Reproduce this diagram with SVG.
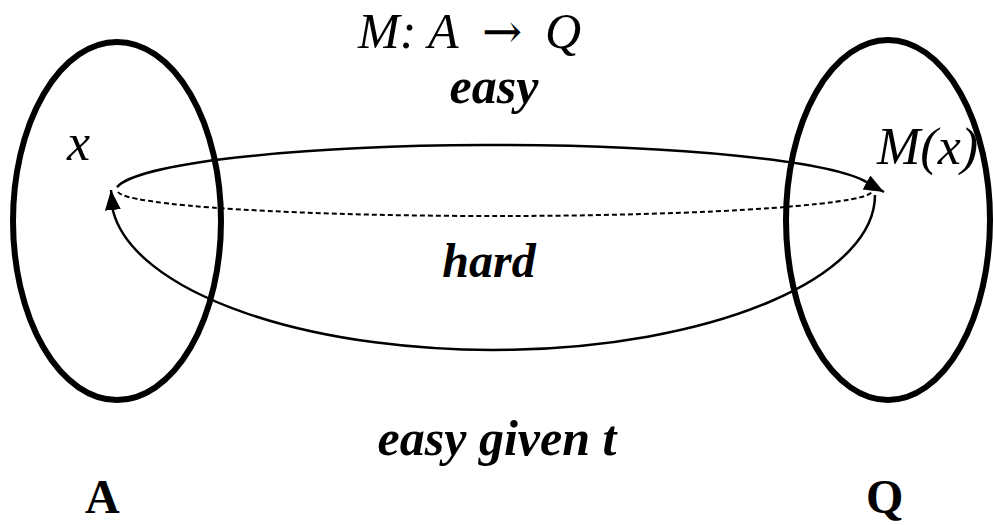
<svg xmlns="http://www.w3.org/2000/svg" width="993" height="525" viewBox="0 0 993 525">
<style>
.set{fill:none;stroke:#000;stroke-width:6}
.arc{fill:none;stroke:#000;stroke-width:2.5}
.dash{fill:none;stroke:#000;stroke-width:2;stroke-dasharray:5 3}
.it{font-family:"Liberation Serif","Times New Roman",serif;font-style:italic;fill:#000}
.bi{font-family:"Liberation Serif","Times New Roman",serif;font-style:italic;font-weight:bold;fill:#000}
.b{font-family:"Liberation Serif","Times New Roman",serif;font-weight:bold;fill:#000}
</style>
<defs>
<marker id="ah" markerUnits="userSpaceOnUse" markerWidth="22" markerHeight="18" refX="20" refY="8" orient="auto">
<path d="M0,0 L20,8 L0,16 z" fill="#000"/>
</marker>
</defs>
<rect width="993" height="525" fill="#fff"/>
<g id="setA">
<ellipse class="set" cx="117" cy="221" rx="104" ry="179"/>
<text class="b" x="85" y="513" font-size="48">A</text>
</g>
<g id="setQ">
<ellipse class="set" cx="888" cy="220" rx="102" ry="180"/>
<text class="b" x="866" y="513" font-size="48">Q</text>
</g>
<g id="nodeX">
<text class="it" x="67" y="160" font-size="52">x</text>
</g>
<g id="nodeMx">
<text class="it" x="877" y="164" font-size="52">M(x)</text>
</g>
<g id="connectors">
<path class="arc" d="M117,187.2 A380,47 0 0 1 870,184.4 L884,192" marker-end="url(#ah)"/>
<path class="arc" d="M875,195 A382,155 0 0 1 113,210.8 L111,190" marker-end="url(#ah)"/>
<path class="dash" d="M118,192 A377,25 0 0 0 872,190"/>
</g>
<g id="labels">
<text class="it" y="48" font-size="50"><tspan x="358">M: A</tspan><tspan x="482" font-family="DejaVu Serif" font-style="normal" font-size="48">→</tspan><tspan x="545">Q</tspan></text>
<text class="bi" x="494" y="103" font-size="50" text-anchor="middle">easy</text>
<text class="bi" x="489" y="277" font-size="48" text-anchor="middle">hard</text>
<text class="bi" x="497" y="455" font-size="50" text-anchor="middle">easy given t</text>
</g>
</svg>
